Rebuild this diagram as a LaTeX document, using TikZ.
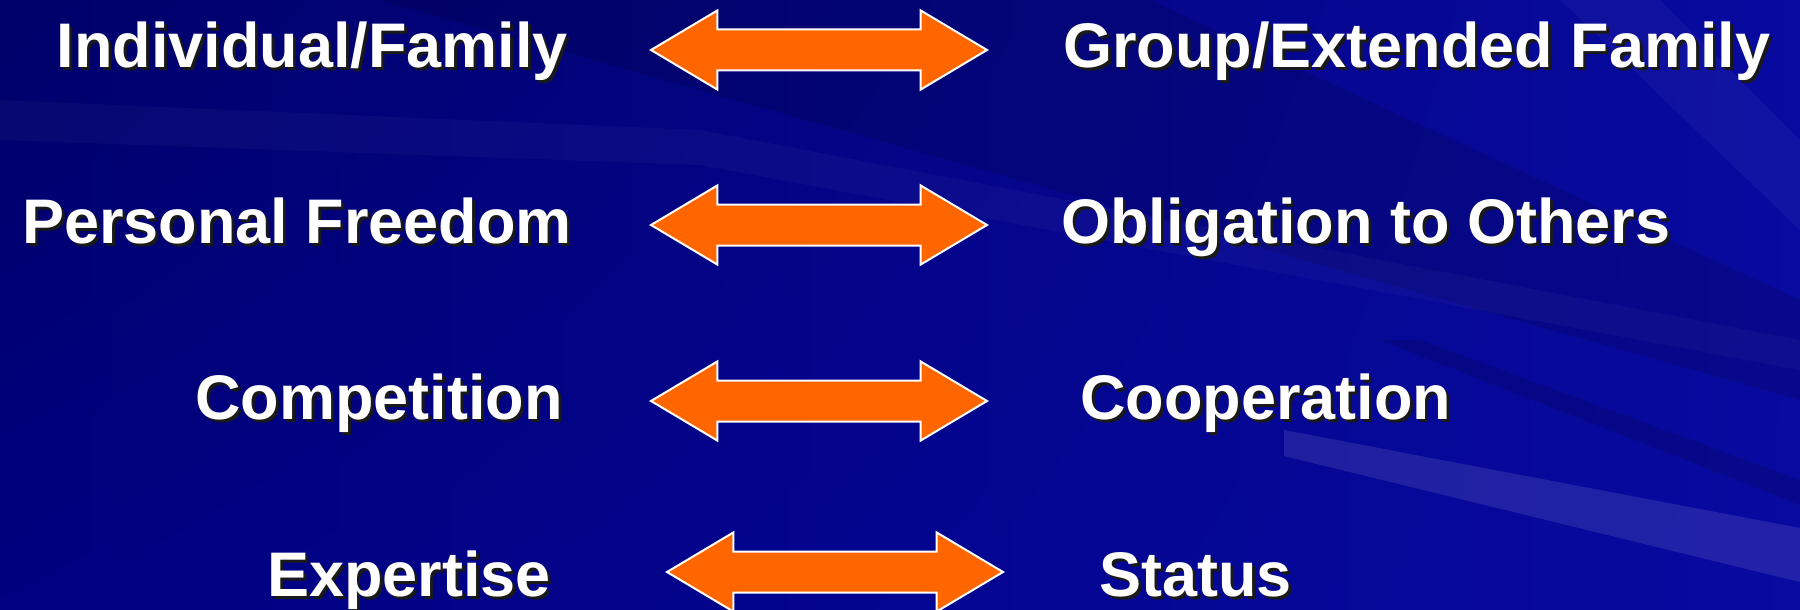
\documentclass[tikz,border=0pt]{standalone}
\usepackage{fontspec}
\setmainfont{Liberation Sans}
\usetikzlibrary{shapes.arrows,shadings}

\definecolor{bgdark}{RGB}{0,0,105}
\definecolor{bgnavy}{RGB}{0,0,128}
\definecolor{bgblue}{RGB}{8,10,160}
\definecolor{arroworange}{RGB}{255,102,0}

\newcommand{\shadowed}[1]{\makebox[0pt][l]{\hspace{3pt}\raisebox{-3pt}{\color{black!90}#1}}#1}

\begin{document}
\begin{tikzpicture}[x=1pt,y=-1pt]
		\tikzstyle{word}=[text=white,inner sep=0pt,font=\fontsize{63}{70}\selectfont\bfseries]
		\tikzstyle{twoway}=[double arrow,fill=arroworange,draw=white,line width=2pt,inner xsep=0pt,inner ysep=19.5pt,
			minimum height=336pt,minimum width=78pt,double arrow head extend=19pt,double arrow tip angle=61.6]

		% background
		\useasboundingbox (0,0) rectangle (1800,610);
		\shade[upper left=bgdark,upper right=bgblue,lower left=bgnavy,lower right=bgblue] (0,0) rectangle (1800,610);
		\fill[black,opacity=0.12] (380,0) -- (1150,0) -- (1800,300) -- (1800,400) -- cycle;
		\fill[white,opacity=0.03] (0,100) -- (700,130) -- (1800,340) -- (1800,370) -- (700,165) -- (0,140) -- cycle;
		\fill[white,opacity=0.10] (1284,430) -- (1800,528) -- (1800,582) -- (1284,456) -- cycle;
		\fill[white,opacity=0.04] (1560,0) -- (1660,0) -- (1800,140) -- (1800,230) -- cycle;
		\fill[black,opacity=0.12] (1380,340) -- (1420,340) -- (1800,480) -- (1800,505) -- cycle;

		% arrows
		\node [twoway] (a1) at (819,50) {};
		\node [twoway] (a2) at (819,225) {};
		\node [twoway] (a3) at (819,401) {};
		\node [twoway] (a4) at (835,572) {};

		% left column
		\node [word,anchor=base east] (indiv) at (568,67) {\shadowed{Individual/Family}};
		\node [word,anchor=base east] (freedom) at (572,243) {\shadowed{Personal Freedom}};
		\node [word,anchor=base east] (compet) at (563,419) {\shadowed{Competition}};
		\node [word,anchor=base east] (expert) at (551,596) {\shadowed{Expertise}};

		% right column
		\node [word,anchor=base west] (group) at (1063,67) {\shadowed{Group/Extended Family}};
		\node [word,anchor=base west] (oblig) at (1061,243) {\shadowed{Obligation to Others}};
		\node [word,anchor=base west] (coop) at (1080,419) {\shadowed{Cooperation}};
		\node [word,anchor=base west] (status) at (1099,596) {\shadowed{Status}};

\end{tikzpicture}
\end{document}
